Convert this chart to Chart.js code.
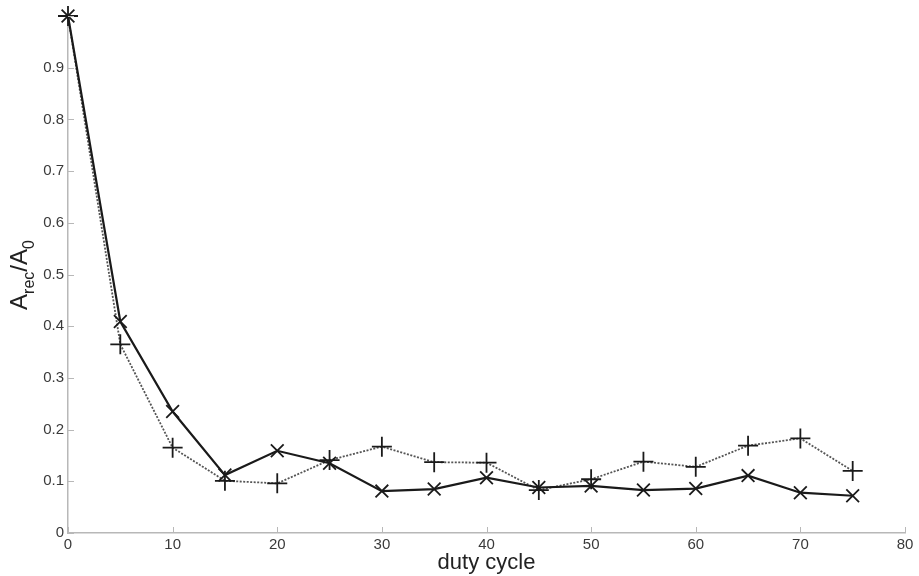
<!DOCTYPE html>
<html>
<head>
<meta charset="utf-8">
<script src="https://cdn.jsdelivr.net/npm/chart.js@4/dist/chart.umd.min.js"></script>
<style>
  html, body { margin: 0; padding: 0; background: #fff; }
  #wrap { width: 919px; height: 576px; position: relative; }
</style>
</head>
<body>
<div id="wrap"><canvas id="c" width="919" height="576"></canvas></div>
<script>
const dutyCycle = [0, 5, 10, 15, 20, 25, 30, 35, 40, 45, 50, 55, 60, 65, 70, 75];
const seriesCross = [1.0, 0.409, 0.235, 0.112, 0.159, 0.135, 0.081, 0.085, 0.107, 0.088, 0.091, 0.083, 0.086, 0.111, 0.078, 0.072];
const seriesPlus  = [1.0, 0.365, 0.165, 0.101, 0.096, 0.141, 0.167, 0.137, 0.136, 0.083, 0.104, 0.138, 0.128, 0.169, 0.183, 0.120];
const xTicks = [0, 10, 20, 30, 40, 50, 60, 70, 80];
const yTicks = [0, 0.1, 0.2, 0.3, 0.4, 0.5, 0.6, 0.7, 0.8, 0.9, 1.0];
const xTitle = 'duty cycle';
const yTitleParts = [['A', false], ['rec', true], ['/A', false], ['0', true]];

const FONT = '"Liberation Sans", Arial, Helvetica, sans-serif';

const innerTicks = {
  id: 'innerTicks',
  afterDraw(chart) {
    const ctx = chart.ctx;
    const xs = chart.scales.x, ys = chart.scales.y;
    const area = chart.chartArea;
    ctx.save();
    ctx.strokeStyle = '#b8b8b8';
    ctx.lineWidth = 1;
    xTicks.forEach(v => {
      const px = Math.round(xs.getPixelForValue(v)) + 0.5;
      ctx.beginPath(); ctx.moveTo(px, area.bottom); ctx.lineTo(px, area.bottom - 6); ctx.stroke();
    });
    yTicks.forEach(v => {
      const py = Math.round(ys.getPixelForValue(v)) + 0.5;
      ctx.beginPath(); ctx.moveTo(area.left, py); ctx.lineTo(area.left + 6, py); ctx.stroke();
    });
    // y title with subscripts
    ctx.translate(27, 275);
    ctx.rotate(-Math.PI / 2);
    ctx.fillStyle = '#222';
    ctx.textBaseline = 'alphabetic';
    let total = 0;
    const mainF = '24px ' + FONT, subF = '16px ' + FONT;
    yTitleParts.forEach(([t, sub]) => { ctx.font = sub ? subF : mainF; total += ctx.measureText(t).width; });
    let x = -total / 2;
    yTitleParts.forEach(([t, sub]) => {
      ctx.font = sub ? subF : mainF;
      ctx.fillText(t, x, sub ? 7 : 0);
      x += ctx.measureText(t).width;
    });
    ctx.restore();
  }
};

new Chart(document.getElementById('c'), {
  type: 'line',
  data: {
    datasets: [
      {
        label: 'x',
        data: dutyCycle.map((d, i) => ({ x: d, y: seriesCross[i] })),
        borderColor: '#1a1a1a',
        borderWidth: 2.2,
        pointStyle: 'crossRot',
        pointRadius: 9,
        pointBorderWidth: 1.8,
        pointBorderColor: '#1a1a1a',
        pointBackgroundColor: '#1a1a1a',
        tension: 0,
        fill: false,
        clip: false
      },
      {
        label: '+',
        data: dutyCycle.map((d, i) => ({ x: d, y: seriesPlus[i] })),
        borderColor: '#555',
        borderWidth: 1.8,
        borderDash: [2, 1.5],
        pointStyle: 'cross',
        pointRadius: 10,
        pointBorderWidth: 1.8,
        pointBorderColor: '#1a1a1a',
        pointBackgroundColor: '#1a1a1a',
        tension: 0,
        fill: false,
        clip: false
      }
    ]
  },
  options: {
    responsive: false,
    animation: false,
    events: [],
    layout: { padding: { top: 16, right: 14, left: 0, bottom: 0 } },
    plugins: { legend: { display: false }, tooltip: { enabled: false }, title: { display: false } },
    scales: {
      x: {
        type: 'linear',
        min: 0, max: 80,
        afterBuildTicks(s) { s.ticks = xTicks.map(v => ({ value: v })); },
        afterFit(s) { s.height = 43; },
        grid: { display: false, drawTicks: false },
        border: { display: true, color: '#b8b8b8', width: 1.5 },
        ticks: {
          color: '#3a3a3a',
          font: { family: FONT, size: 15 },
          padding: 3,
          maxRotation: 0,
          autoSkip: false
        },
        title: {
          display: true,
          text: xTitle,
          color: '#222',
          font: { family: FONT, size: 22 },
          padding: { top: 0, bottom: 0 }
        }
      },
      y: {
        type: 'linear',
        min: 0, max: 1,
        afterBuildTicks(s) { s.ticks = yTicks.map(v => ({ value: v })); },
        afterFit(s) { s.width = 68; },
        grid: { display: false, drawTicks: false },
        border: { display: true, color: '#b8b8b8', width: 1.5 },
        ticks: {
          color: '#3a3a3a',
          font: { family: FONT, size: 15 },
          padding: 4,
          autoSkip: false,
          callback(v) { return v >= 1 ? '' : String(Math.round(v * 10) / 10); }
        }
      }
    }
  },
  plugins: [innerTicks]
});
</script>
</body>
</html>
